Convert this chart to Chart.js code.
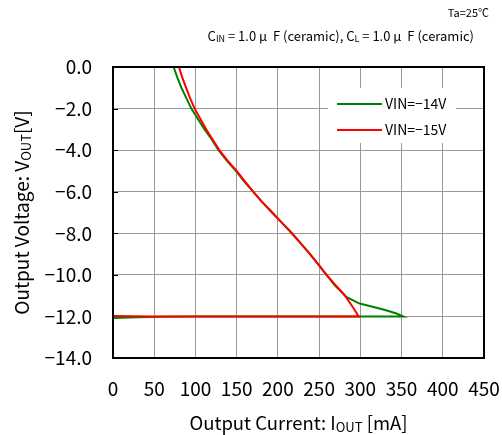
<!DOCTYPE html>
<html>
<head>
<meta charset="utf-8">
<script src="https://cdn.jsdelivr.net/npm/chart.js@4"></script>
<style>
  body { margin: 0; background: #fff; }
  #wrap { width: 502px; height: 435px; position: relative; }
</style>
</head>
<body>
<div id="wrap"><canvas id="chart"></canvas></div>
<script>
// VIN=-14V : 負荷電流を増やしてフォールドバック
const current14 = [0, 30, 60, 100, 352, 343, 331, 315, 299, 283, 277, 269, 259, 249, 239, 228, 217, 205, 193, 181, 170, 159, 149, 138, 128, 120, 111, 103, 95, 89, 83, 78, 73.5];
const voltage14 = [-12.07, -12.04, -12.01, -12.0, -12.0, -11.85, -11.7, -11.53, -11.38, -11.06, -10.82, -10.5, -10, -9.5, -9, -8.5, -8, -7.5, -7, -6.5, -6, -5.5, -5, -4.5, -4, -3.5, -3, -2.5, -2, -1.5, -1, -0.5, 0];
// VIN=-15V
const current15 = [0, 50, 100, 298, 292, 281, 270, 259, 249, 239, 228, 217, 205, 193, 181, 170, 160, 150, 139, 129, 121, 113, 106, 99, 93.5, 88.7, 84, 80];
const voltage15 = [-11.98, -12.0, -12.0, -12.0, -11.62, -10.98, -10.5, -10, -9.5, -9, -8.5, -8, -7.5, -7, -6.5, -6, -5.5, -5, -4.5, -4, -3.5, -3, -2.5, -2, -1.5, -1, -0.5, 0];

const seriesNames = ['VIN=−14V', 'VIN=−15V'];
const seriesColors = ['#008000', '#ff0000'];

const FONT = '"Noto Sans CJK JP", "Noto Sans", sans-serif';

function toPoints(xs, ys) {
    return xs.map((x, i) => ({ x: x, y: ys[i] }));
}

// 下付き文字つきテキスト
function drawParts(ctx, parts, x, y, size, align) {
    const subSize = Math.round(size * 0.7);
    let total = 0;
    parts.forEach(p => {
        ctx.font = (p.sub ? subSize : size) + 'px ' + FONT;
        total += ctx.measureText(p.t).width;
    });
    let cx = align === 'right' ? x - total : (align === 'center' ? x - total / 2 : x);
    ctx.textAlign = 'left';
    ctx.textBaseline = 'middle';
    parts.forEach(p => {
        ctx.font = (p.sub ? subSize : size) + 'px ' + FONT;
        ctx.fillText(p.t, cx, p.sub ? y + size * 0.2 : y);
        cx += ctx.measureText(p.t).width;
    });
}

const decorPlugin = {
    id: 'decor',
    beforeDatasetsDraw(chart) {
        const ctx = chart.ctx;
        const area = chart.chartArea;
        ctx.save();
        // 凡例の白い背景
        ctx.fillStyle = '#fff';
        ctx.fillRect(328, 88, 128, 55);
        // 左軸の内向き目盛り
        ctx.strokeStyle = '#000';
        ctx.lineWidth = 1;
        const ys = chart.scales.y;
        ys.ticks.forEach(t => {
            const py = Math.round(ys.getPixelForValue(t.value)) + 0.5;
            ctx.beginPath();
            ctx.moveTo(area.left, py);
            ctx.lineTo(area.left + 5, py);
            ctx.stroke();
        });
        ctx.restore();
    },
    afterDraw(chart) {
        const ctx = chart.ctx;
        const area = chart.chartArea;
        ctx.save();
        // 枠
        ctx.strokeStyle = '#000';
        ctx.lineWidth = 2;
        ctx.strokeRect(area.left, area.top, area.right - area.left, area.bottom - area.top);

        // 凡例
        ctx.lineWidth = 2;
        seriesNames.forEach((name, i) => {
            const ly = 104 + i * 26;
            ctx.strokeStyle = seriesColors[i];
            ctx.beginPath();
            ctx.moveTo(337, ly);
            ctx.lineTo(382, ly);
            ctx.stroke();
            ctx.fillStyle = '#000';
            ctx.font = '14px ' + FONT;
            ctx.textAlign = 'left';
            ctx.textBaseline = 'middle';
            ctx.fillText(name, 385, ly);
        });

        // 条件
        ctx.fillStyle = '#000';
        drawParts(ctx, [{ t: 'Ta=25℃' }], 489, 13, 11, 'right');
        drawParts(ctx, [
            { t: 'C' }, { t: 'IN', sub: true }, { t: ' = 1.0 μ  F (ceramic), C' },
            { t: 'L', sub: true }, { t: ' = 1.0 μ  F (ceramic)' }
        ], 474, 36, 13, 'right');

        // 軸タイトル
        drawParts(ctx, [{ t: 'Output Current: I' }, { t: 'OUT', sub: true }, { t: ' [mA]' }],
            (area.left + area.right) / 2, 423, 18.5, 'center');
        ctx.translate(22, (area.top + area.bottom) / 2);
        ctx.rotate(-Math.PI / 2);
        drawParts(ctx, [{ t: 'Output Voltage: V' }, { t: 'OUT', sub: true }, { t: '[V]' }],
            0, 0, 19, 'center');
        ctx.restore();
    }
};

const chart = new Chart(document.getElementById('chart'), {
    type: 'scatter',
    data: {
        datasets: [
            {
                label: seriesNames[0],
                data: toPoints(current14, voltage14),
                borderColor: seriesColors[0],
                borderWidth: 2,
                showLine: true,
                pointRadius: 0,
                fill: false,
                order: 1,
            },
            {
                label: seriesNames[1],
                data: toPoints(current15, voltage15),
                borderColor: seriesColors[1],
                borderWidth: 2,
                showLine: true,
                pointRadius: 0,
                fill: false,
                order: 0,
            },
        ],
    },
    options: {
        responsive: true,
        maintainAspectRatio: false,
        animation: false,
        layout: { padding: { left: 0, top: 67, right: 18, bottom: 0 } },
        plugins: { legend: { display: false }, tooltip: { enabled: false } },
        scales: {
            x: {
                type: 'linear',
                min: 0,
                max: 450,
                afterFit: s => { s.height = 77; s.paddingLeft = 0; s.paddingRight = 0; },
                border: { display: false },
                grid: { color: '#999', lineWidth: 1, drawTicks: false },
                ticks: {
                    stepSize: 50,
                    padding: 19,
                    color: '#000',
                    font: { family: FONT, size: 19 },
                },
            },
            y: {
                type: 'linear',
                min: -14,
                max: 0,
                afterFit: s => { s.width = 113; s.paddingTop = 0; s.paddingBottom = 0; },
                border: { display: false },
                grid: { color: '#999', lineWidth: 1, drawTicks: false },
                ticks: {
                    stepSize: 2,
                    padding: 21,
                    color: '#000',
                    font: { family: FONT, size: 19 },
                    callback: v => (v === 0 ? '0.0' : v.toFixed(1).replace('-', '−')),
                },
            },
        },
    },
    plugins: [decorPlugin],
});
</script>
</body>
</html>
